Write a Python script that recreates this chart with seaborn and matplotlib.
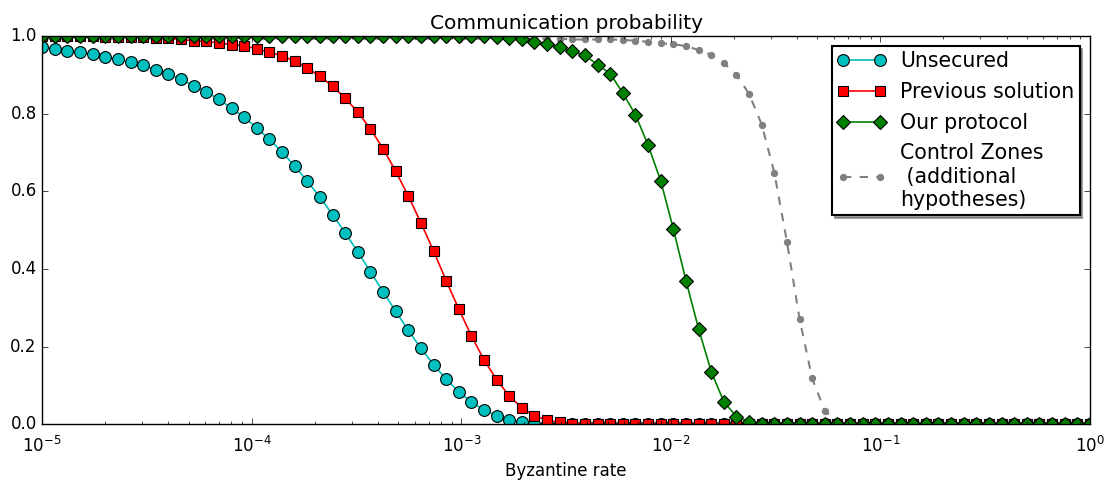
import numpy as np
import matplotlib
matplotlib.use('Agg')
from matplotlib import pyplot as plt
import seaborn as sns

# sampling grid of the byzantine rate (84 points, log spaced)
byz_rate = np.logspace(-5, 0, 84)

unsecured = [0.972, 0.967, 0.962, 0.958, 0.953, 0.947, 0.940, 0.932, 0.925, 0.912,
             0.901, 0.889, 0.872, 0.856, 0.837, 0.814, 0.791, 0.763, 0.734, 0.701,
             0.665, 0.626, 0.585, 0.540, 0.493, 0.444, 0.393, 0.342, 0.291, 0.242,
             0.196, 0.154, 0.116, 0.084, 0.057, 0.037, 0.022, 0.012, 0.005, 0.002,
             0.0, 0.0, 0.0, 0.0, 0.0, 0.0, 0.0, 0.0, 0.0, 0.0,
             0.0, 0.0, 0.0, 0.0, 0.0, 0.0, 0.0, 0.0, 0.0, 0.0,
             0.0, 0.0, 0.0, 0.0, 0.0, 0.0, 0.0, 0.0, 0.0, 0.0,
             0.0, 0.0, 0.0, 0.0, 0.0, 0.0, 0.0, 0.0, 0.0, 0.0,
             0.0, 0.0, 0.0, 0.0]

previous = [0.999, 0.999, 0.999, 0.999, 0.999, 0.998, 0.998, 0.998, 0.997, 0.996,
            0.994, 0.991, 0.988, 0.986, 0.982, 0.978, 0.975, 0.967, 0.958, 0.949,
            0.935, 0.918, 0.896, 0.871, 0.840, 0.804, 0.761, 0.710, 0.652, 0.588,
            0.519, 0.447, 0.370, 0.297, 0.228, 0.166, 0.115, 0.073, 0.042, 0.022,
            0.011, 0.005, 0.002, 0.001, 0.0, 0.0, 0.0, 0.0, 0.0, 0.0,
            0.0, 0.0, 0.0, 0.0, 0.0, 0.0, 0.0, 0.0, 0.0, 0.0,
            0.0, 0.0, 0.0, 0.0, 0.0, 0.0, 0.0, 0.0, 0.0, 0.0,
            0.0, 0.0, 0.0, 0.0, 0.0, 0.0, 0.0, 0.0, 0.0, 0.0,
            0.0, 0.0, 0.0, 0.0]

our_protocol = [1.0, 1.0, 1.0, 1.0, 1.0, 1.0, 1.0, 1.0, 1.0, 1.0,
                1.0, 1.0, 1.0, 1.0, 1.0, 1.0, 1.0, 1.0, 1.0, 1.0,
                1.0, 1.0, 1.0, 1.0, 1.0, 1.0, 1.0, 1.0, 1.0, 1.0,
                1.0, 1.0, 1.0, 1.0, 1.0, 1.0, 0.998, 0.995, 0.991, 0.985,
                0.980, 0.971, 0.961, 0.950, 0.926, 0.903, 0.853, 0.797, 0.719, 0.627,
                0.503, 0.370, 0.246, 0.136, 0.058, 0.020, 0.005, 0.001, 0.0, 0.0,
                0.0, 0.0, 0.0, 0.0, 0.0, 0.0, 0.0, 0.0, 0.0, 0.0,
                0.0, 0.0, 0.0, 0.0, 0.0, 0.0, 0.0, 0.0, 0.0, 0.0,
                0.0, 0.0, 0.0, 0.0]

control_zones = [0.993, 0.993, 0.993, 0.993, 0.993, 0.993, 0.993, 0.993, 0.993, 0.993,
                 0.993, 0.993, 0.993, 0.993, 0.993, 0.993, 0.993, 0.993, 0.993, 0.993,
                 0.993, 0.993, 0.993, 0.993, 0.993, 0.993, 0.993, 0.993, 0.993, 0.993,
                 0.993, 0.993, 0.993, 0.993, 0.993, 0.993, 0.993, 0.993, 0.993, 0.993,
                 0.993, 0.993, 0.991, 0.991, 0.991, 0.991, 0.990, 0.988, 0.985, 0.981,
                 0.979, 0.974, 0.964, 0.952, 0.930, 0.900, 0.851, 0.772, 0.648, 0.470,
                 0.271, 0.118, 0.034, 0.008, 0.001, 0.0, 0.0, 0.0, 0.0, 0.0,
                 0.0, 0.0, 0.0, 0.0, 0.0, 0.0, 0.0, 0.0, 0.0, 0.0,
                 0.0, 0.0, 0.0, 0.0]

plt.style.use('classic')
plt.rcParams['font.family'] = ['DejaVu Sans']

fig, ax = plt.subplots(figsize=(11.11, 4.8), dpi=100)
fig.patch.set_facecolor('white')
fig.subplots_adjust(left=0.038, right=0.981, top=0.925, bottom=0.116)

# three protocols with black-edged markers
sns.lineplot(x=byz_rate, y=unsecured, ax=ax, color='c', marker='o',
             markersize=8.5, markeredgecolor='k', markeredgewidth=0.8,
             linewidth=1.2, errorbar=None, label='Unsecured')
sns.lineplot(x=byz_rate, y=previous, ax=ax, color='r', marker='s',
             markersize=7.5, markeredgecolor='k', markeredgewidth=0.8,
             linewidth=1.2, errorbar=None, label='Previous solution')
sns.lineplot(x=byz_rate, y=our_protocol, ax=ax, color='g', marker='D',
             markersize=6.8, markeredgecolor='k', markeredgewidth=0.8,
             linewidth=1.2, errorbar=None, label='Our protocol')
# control zones drawn below the others
sns.lineplot(x=byz_rate, y=control_zones, ax=ax, color='0.5', marker='o',
             markersize=4.5, markeredgecolor='0.5', linestyle='--',
             linewidth=1.5, errorbar=None, zorder=1.5,
             label='Control Zones\n (additional\nhypotheses)')

# markers on 0 and 1 are cut by the axes box like in the original
for line in ax.lines:
    line.set_clip_on(True)
    line.set_clip_path(ax.patch)

ax.set_xscale('log')
ax.set_xlim(1e-5, 1)
ax.set_ylim(0, 1)
ax.set_yticks([0.0, 0.2, 0.4, 0.6, 0.8, 1.0])
ax.tick_params(axis='x', which='major', pad=8)
ax.set_title('Communication probability', fontsize=14.5)
ax.set_xlabel('Byzantine rate', fontsize=12)
ax.set_ylabel('')

leg = ax.legend(loc='upper right', shadow=True, fontsize=14.8, numpoints=2,
                borderaxespad=0.5, borderpad=0.25, labelspacing=0.52,
                handlelength=2.4, handletextpad=0.67)
leg.get_frame().set_linewidth(1.5)

plt.savefig('out.png', dpi=100, facecolor='white')
